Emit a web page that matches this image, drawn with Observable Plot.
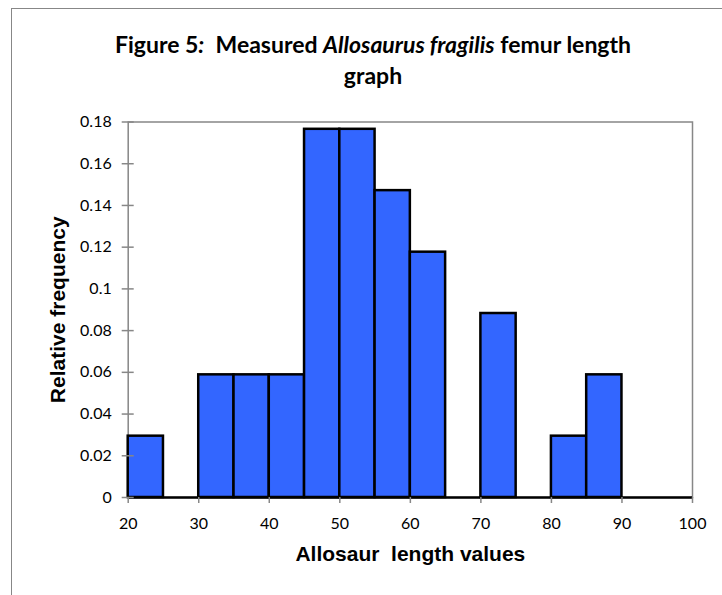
<!DOCTYPE html>
<html><head><meta charset="utf-8">
<script src="https://cdn.jsdelivr.net/npm/d3@7"></script>
<script src="https://cdn.jsdelivr.net/npm/@observablehq/plot@0.6"></script>
<style>
html,body{margin:0;padding:0;background:#fff;overflow:hidden;}
#wrap{position:relative;width:722px;height:595px;overflow:hidden;background:#fff;}
#border{position:absolute;left:11px;top:8px;width:900px;height:900px;border-left:1.5px solid #878787;border-top:1.5px solid #878787;box-sizing:border-box;}
#chart{position:absolute;left:0;top:0;}
#title{position:absolute;left:0;width:746px;top:28.5px;text-align:center;font-family:Lato,sans-serif;font-weight:bold;font-size:23px;line-height:31px;color:#000;}
#title div{white-space:pre;}
</style></head>
<body>
<div id="wrap">
  <div id="border"></div>
  <div id="chart"></div>
  <div id="title"><div>Figure 5<i>:</i>  Measured <i>Allosaurus fragilis</i> femur length</div><div>graph</div></div>
</div>
<script>
// Histogram bins (bin edges) and relative frequencies
const binStart = [20, 25, 30, 35, 40, 45, 50, 55, 60, 65, 70, 75, 80, 85, 90, 95];
const binEnd   = [25, 30, 35, 40, 45, 50, 55, 60, 65, 70, 75, 80, 85, 90, 95, 100];
const relFreq  = [0.0294, 0, 0.0588, 0.0588, 0.0588, 0.1765, 0.1765, 0.1471, 0.1176, 0, 0.0882, 0, 0.0294, 0.0588, 0, 0];
const xTicks = [20, 30, 40, 50, 60, 70, 80, 90, 100];
const yTicks = [0, 0.02, 0.04, 0.06, 0.08, 0.1, 0.12, 0.14, 0.16, 0.18];
const yTickLabels = ["0", "0.02", "0.04", "0.06", "0.08", "0.1", "0.12", "0.14", "0.16", "0.18"];
const xTitle = "Allosaur\u00A0 length values";
const yTitle = "Relative frequency";

const bins = binStart.map((s, i) => ({x1: s, x2: binEnd[i], f: relFreq[i]}));
const grey = "#878787";

const chart = Plot.plot({
  width: 722,
  height: 595,
  marginLeft: 127.7,
  marginRight: 30,
  marginTop: 121.5,
  marginBottom: 98,
  style: {fontFamily: "Lato, sans-serif", fontSize: "16px", color: "#000", background: "transparent"},
  x: {domain: [20, 100]},
  y: {domain: [0, 0.18]},
  marks: [
    Plot.frame({stroke: grey, strokeWidth: 1.5}),
    Plot.rectY(bins, {x1: "x1", x2: "x2", y: "f", fill: "#3366FF", stroke: "#000", strokeWidth: 2.5}),
    Plot.ruleY([0], {stroke: "#000", strokeWidth: 2.5}),
    Plot.axisY(yTicks, {tickSize: 12, dx: 6, fill: "none", stroke: grey, strokeWidth: 1.5, label: null}),
    Plot.axisY(yTicks, {tickSize: 0, tickPadding: 16.5, stroke: "none", fill: "#000", fontSize: 16,
      tickFormat: d => yTickLabels[yTicks.indexOf(d)], label: null}),
    Plot.axisX(xTicks, {tickSize: 6, tickPadding: 14, stroke: grey, strokeWidth: 1.5, fill: "#000", fontSize: 16,
      tickFormat: d => String(d), label: null}),
    Plot.text([xTitle], {frameAnchor: "bottom", dy: 56.3, textAnchor: "middle", lineAnchor: "middle",
      fontFamily: "Liberation Sans, Arial, sans-serif", fontWeight: "bold", fontSize: 21, fill: "#000"}),
    Plot.text([yTitle], {frameAnchor: "left", dx: -70.2, rotate: -90, textAnchor: "middle", lineAnchor: "middle",
      fontFamily: "Liberation Sans, Arial, sans-serif", fontWeight: "bold", fontSize: 21, fill: "#000"})
  ]
});
document.getElementById("chart").appendChild(chart);
</script>
</body></html>
